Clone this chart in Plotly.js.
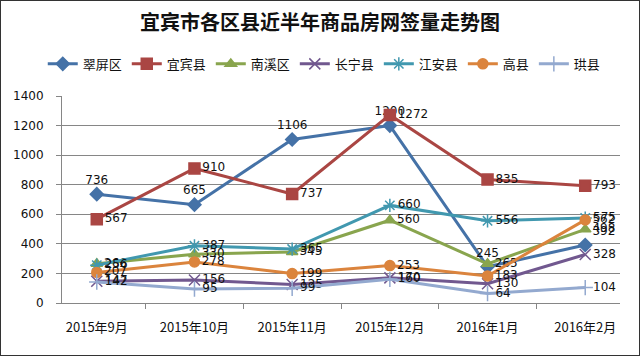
<!DOCTYPE html>
<html><head><meta charset="utf-8">
<script src="https://cdn.plot.ly/plotly-3.0.1.min.js"></script>
<style>html,body{margin:0;padding:0;background:#fff}#c{width:638px;height:354px;border:1px solid #333;}</style>
</head><body><div id="c"></div>
<script>
const months = ['2015年9月','2015年10月','2015年11月','2015年12月','2016年1月','2016年2月'];
const cuiping = [736, 665, 1106, 1200, 245, 392];
const yibinxian = [567, 910, 737, 1272, 835, 793];
const nanxi = [266, 330, 345, 560, 265, 498];
const changning = [147, 156, 125, 170, 130, 328];
const jiangan = [256, 387, 365, 660, 556, 575];
const gaoxian = [207, 278, 199, 253, 183, 562];
const gongxian = [142, 95, 99, 160, 64, 104];
const names = ['翠屏区','宜宾县','南溪区','长宁县','江安县','高县','珙县'];
const colors = ['#4572A7','#AA4643','#89A54E','#71588F','#4198AF','#DB843D','#93A9CF'];
const symbols = ['diamond','square','triangle-up','x-thin-open','asterisk-open','circle','cross-thin-open'];
const sizes = [10,11,10,11,11,10,11];
const series = [cuiping, yibinxian, nanxi, changning, jiangan, gaoxian, gongxian];
const textpos = [
  ['top center','top center','top center','top center','top center','top right'],
  'middle right','middle right','middle right','middle right','middle right','middle right'
];
const traces = series.map((s,i)=>({
  x: months, y: s, name: names[i], type:'scatter', mode:'lines+markers+text',
  text: s.map(String), textposition: textpos[i],
  textfont:{family:'DejaVu Sans, Verdana, sans-serif', size:12, color:'#111'},
  line:{color:colors[i], width:3},
  marker:{symbol:symbols[i], size:sizes[i], color:colors[i], line:{color:colors[i], width:1.5}},
  cliponaxis:false
}));
const layout = {
  width:638, height:354,
  margin:{l:61, r:19, t:95, b:52},
  paper_bgcolor:'#fff', plot_bgcolor:'#fff',
  title:{text:'宜宾市各区县近半年商品房网签量走势图', x:0.5, xanchor:'center', y:0.938, yanchor:'middle',
    font:{family:'Noto Sans CJK SC, sans-serif', size:20, color:'#111', weight:'bold'}},
  showlegend:true,
  legend:{orientation:'h', xref:'paper', x:0.47, xanchor:'center', y:1.155, yanchor:'middle',
    font:{family:'Noto Sans CJK SC, sans-serif', size:13, color:'#111'}, itemwidth:30, tracegroupgap:0},
  xaxis:{type:'category', showgrid:false, showline:true, linecolor:'#868686', linewidth:1,
    ticks:'outside', tickson:'boundaries', ticklen:5, tickcolor:'#868686', ticklabelstandoff:12,
    tickfont:{family:'Noto Sans CJK SC, DejaVu Sans, sans-serif', size:13, color:'#111'}},
  yaxis:{range:[0,1400], dtick:200, showgrid:true, gridcolor:'#868686', gridwidth:1,
    showline:true, linecolor:'#868686', ticks:'outside', ticklen:5, tickcolor:'#868686', zeroline:false,
    ticklabelstandoff:10,
    tickfont:{family:'DejaVu Sans, Verdana, sans-serif', size:12, color:'#111'}}
};
Plotly.newPlot('c', traces, layout, {displayModeBar:false, staticPlot:true});
</script></body></html>
